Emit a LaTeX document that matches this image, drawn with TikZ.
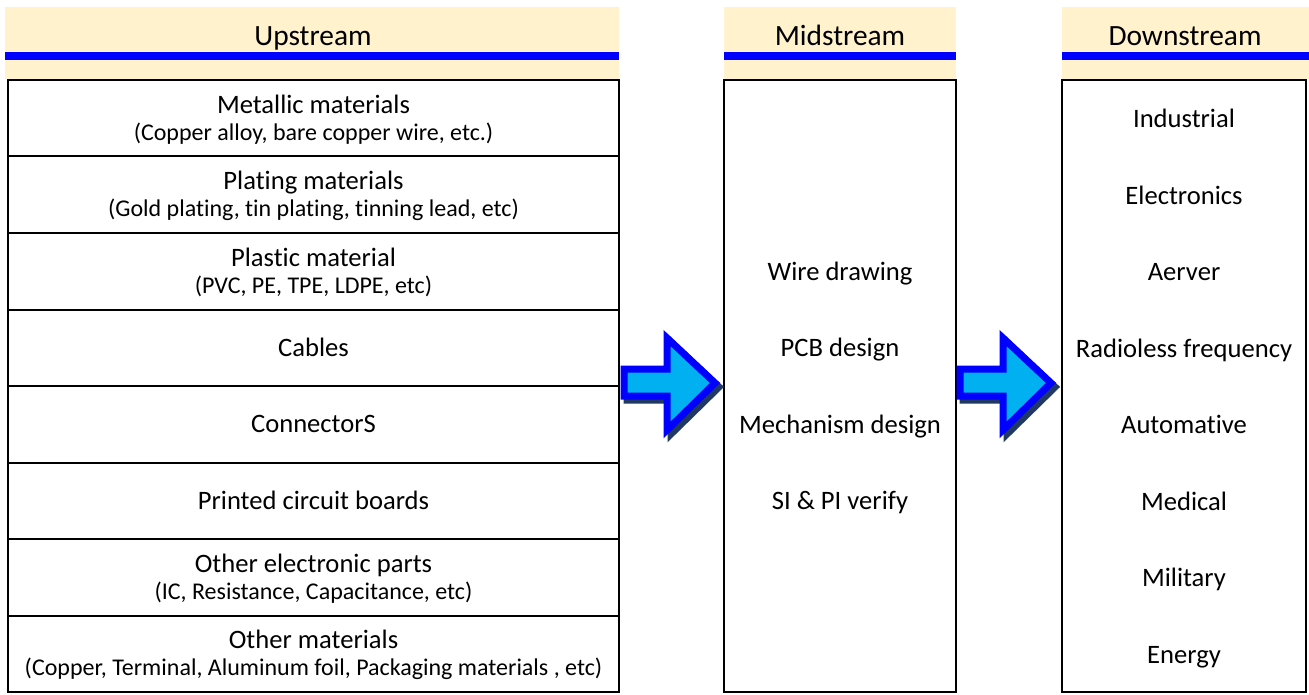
\documentclass[tikz,border=0pt]{standalone}
\usepackage{fontspec}
\setmainfont[Ligatures=NoCommon]{Carlito}
\definecolor{hdr}{HTML}{FFF2CC}
\definecolor{bluel}{HTML}{0000FF}
\definecolor{cyanf}{HTML}{00B0F0}
\definecolor{shad}{HTML}{1F3864}
\begin{document}
\begin{tikzpicture}[x=1pt,y=-1pt,
  hdrband/.style={fill=hdr},
  hdrline/.style={draw=bluel,line width=8pt},
  hdrtext/.style={font=\fontsize{29.4}{33}\selectfont,inner sep=0pt,anchor=base},
  colbox/.style={draw=black,line width=2pt,inner sep=0pt},
  rowbox/.style={draw=black,line width=2pt,inner sep=0pt,minimum width=611pt,minimum height=76.5pt},
  maintext/.style={font=\fontsize{26.6}{30}\selectfont,inner sep=0pt,anchor=base},
  subtext/.style={font=\fontsize{24}{28}\selectfont,inner sep=0pt,anchor=base},
  blockarrow/.style={draw=bluel,fill=cyanf,line width=7pt,line join=miter},
  arrowshadow/.style={draw=shad,fill=shad,line width=7pt,line join=miter}
]
\useasboundingbox (0,0) rectangle (1309,695);
% headers
\fill[hdrband] (5,7) rectangle (619,79);
\fill[hdrband] (724,7) rectangle (956,79);
\fill[hdrband] (1062,7) rectangle (1309,79);
\draw[hdrline] (5,56) -- (619,56);
\draw[hdrline] (724,56) -- (956,56);
\draw[hdrline] (1062,56) -- (1309,56);
\node[hdrtext] (hup) at (313,46) {Upstream};
\node[hdrtext] (hmid) at (840,46) {Midstream};
\node[hdrtext] (hdown) at (1185,46) {Downstream};
% upstream rows
\foreach \i/\m/\s in {
  1/Metallic materials/(Copper alloy{,} bare copper wire{,} etc.),
  2/Plating materials/(Gold plating{,} tin plating{,} tinning lead{,} etc),
  3/Plastic material/(PVC{,} PE{,} TPE{,} LDPE{,} etc),
  7/Other electronic parts/(IC{,} Resistance{,} Capacitance{,} etc),
  8/Other materials/(Copper{,} Terminal{,} Aluminum foil{,} Packaging materials {,} etc)}{
  \node[rowbox] (r\i) at (313.5,{80+76.5*(\i-0.5)}) {};
  \node[maintext] (r\i m) at ([yshift=5pt]r\i.center) {\m};
  \node[subtext] (r\i s) at ([yshift=-22pt]r\i.center) {\s};
}
\foreach \i/\m in {4/Cables,5/ConnectorS,6/Printed circuit boards}{
  \node[rowbox] (r\i) at (313.5,{80+76.5*(\i-0.5)}) {};
  \node[maintext] (r\i m) at ([yshift=-8.5pt]r\i.center) {\m};
}
% midstream
\node[colbox,minimum width=232pt,minimum height=612pt] (mid) at (840,386) {};
\foreach \i/\t in {3/Wire drawing,4/PCB design,5/Mechanism design,6/SI \& PI verify}{
  \node[maintext] (m\i) at (840,{80+76.5*(\i-0.5)+9}) {\t};
}
% downstream
\node[colbox,minimum width=244pt,minimum height=612pt] (down) at (1184,386) {};
\foreach \i/\t in {1/Industrial,2/Electronics,3/Aerver,4/Radioless frequency,5/Automative,6/Medical,7/Military,8/Energy}{
  \node[maintext] (d\i) at (1184,{80+76.5*(\i-0.5)+9.5}) {\t};
}
% block arrows
\foreach \dx/\nm in {0/a1,336/a2}{
  \begin{scope}[xshift=\dx pt]
    \draw[arrowshadow] (627,373) -- (671,373) -- (671,342) -- (719,387) -- (671,434) -- (671,400) -- (627,400) -- cycle;
    \draw[blockarrow] (624,369) -- (667,369) -- (667,338) -- (715,383) -- (667,430) -- (667,396) -- (624,396) -- cycle;
  \end{scope}
}
\end{tikzpicture}
\end{document}
